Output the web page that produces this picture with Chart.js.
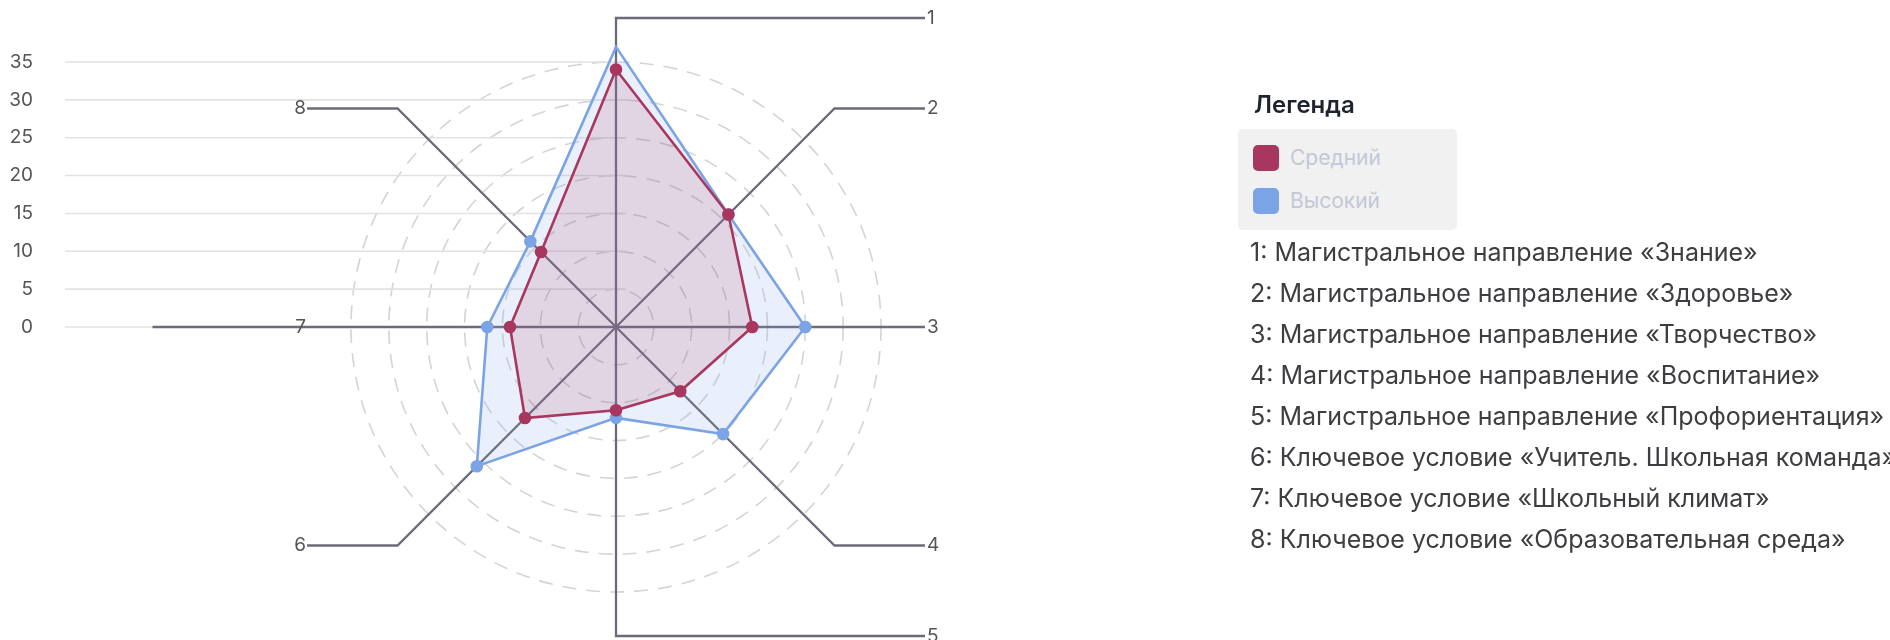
<!DOCTYPE html>
<html>
<head>
<meta charset="utf-8">
<script src="https://cdn.jsdelivr.net/npm/chart.js@4.4.1/dist/chart.umd.min.js"></script>
<style>
  body { margin: 0; background: #fff; font-family: Inter, "Noto Sans", sans-serif; }
  .wrap { position: relative; width: 1890px; height: 640px; overflow: hidden; }
  .wrap canvas { position: absolute; left: 0; top: 0; }
  .legend-title { position: absolute; left: 1254px; top: 90px; font-size: 24px; font-weight: 600; color: #1f2330; }
  .legend-box { position: absolute; left: 1238px; top: 129px; width: 219px; height: 101px; background: #f1f1f2; border-radius: 5px; }
  .legend-item { display: flex; align-items: center; height: 43px; padding-left: 15px; font-size: 21px; color: #c3c8d6; }
  .legend-item:first-child { margin-top: 7px; }
  .legend-item span.sw { width: 26px; height: 26px; border-radius: 5px; margin-right: 11px; }
  .names { position: absolute; left: 1250px; top: 232px; font-size: 25px; color: #3d3d42; }
  .names div { height: 41px; line-height: 41px; white-space: nowrap; }
</style>
</head>
<body>
<div class="wrap">
  <canvas id="radar" width="1890" height="640"></canvas>
  <div class="legend-title">Легенда</div>
  <div class="legend-box" id="legend"></div>
  <div class="names" id="names"></div>
</div>
<script>
const axisNumbers = ["1", "2", "3", "4", "5", "6", "7", "8"];
const axisNames = [
  "Магистральное направление «Знание»",
  "Магистральное направление «Здоровье»",
  "Магистральное направление «Творчество»",
  "Магистральное направление «Воспитание»",
  "Магистральное направление «Профориентация»",
  "Ключевое условие «Учитель. Школьная команда»",
  "Ключевое условие «Школьный климат»",
  "Ключевое условие «Образовательная среда»"
];
const seriesNames = ["Средний", "Высокий"];
const middleValues = [34, 21, 18, 12, 11, 17, 14, 14];
const highValues = [37, 21, 25, 20, 12, 26, 17, 16];
const scaleMax = 35;
const scaleStep = 5;

const colors = ["#a8375f", "#7ba4e6"];
const fills = ["rgba(168,55,95,0.15)", "rgba(123,164,230,0.16)"];

// html legend + list of axis names
const legend = document.getElementById("legend");
seriesNames.forEach((name, i) => {
  legend.innerHTML += `<div class="legend-item"><span class="sw" style="background:${colors[i]}"></span>${name}</div>`;
});
const names = document.getElementById("names");
axisNames.forEach((name, i) => {
  names.innerHTML += `<div>${axisNumbers[i]}: ${name}</div>`;
});

// spokes with elbow leaders + left-axis grid lines (upper half only)
const leaderPlugin = {
  id: "leaders",
  beforeDatasetsDraw(chart) {
    const { ctx, chartArea } = chart;
    const r = chart.scales.r;
    const y = chart.scales.y;
    const cx = r.xCenter, cy = r.yCenter;
    ctx.save();
    ctx.strokeStyle = "#e2e2e4";
    ctx.lineWidth = 1.6;
    y.ticks.forEach(t => {
      if (t.value < 0) return;
      const py = y.getPixelForValue(t.value);
      ctx.beginPath();
      ctx.moveTo(chartArea.left, py);
      ctx.lineTo(cx + 10, py);
      ctx.stroke();
    });

    const reach = r.drawingArea * 1.166;
    ctx.strokeStyle = "#6d6b7a";
    ctx.lineWidth = 2.3;
    ctx.font = "19px Inter";
    ctx.fillStyle = "#555";
    ctx.textBaseline = "middle";
    axisNumbers.forEach((label, i) => {
      const p = r.getPointPosition(i, reach);
      const right = p.x >= cx - 1;
      const endX = right ? cx + reach : cx - reach;
      let lineEnd = endX;
      if (!right && Math.abs(p.y - cy) < 1) lineEnd = cx - reach * 1.5;
      ctx.beginPath();
      ctx.moveTo(cx, cy);
      ctx.lineTo(p.x, p.y);
      ctx.lineTo(lineEnd, p.y);
      ctx.stroke();
      ctx.textAlign = right ? "left" : "right";
      ctx.fillText(label, right ? endX + 2 : endX - 1, p.y);
    });
    ctx.restore();
  }
};

const ctx = document.getElementById("radar").getContext("2d");
new Chart(ctx, {
  type: "radar",
  data: {
    labels: axisNumbers,
    datasets: [
      {
        label: seriesNames[0],
        data: middleValues,
        borderColor: colors[0],
        backgroundColor: fills[0],
        pointBackgroundColor: colors[0],
        pointBorderColor: colors[0],
        borderWidth: 2.6,
        pointRadius: 5,
        fill: true
      },
      {
        label: seriesNames[1],
        data: highValues,
        borderColor: colors[1],
        backgroundColor: fills[1],
        pointBackgroundColor: colors[1],
        pointBorderColor: colors[1],
        borderWidth: 2.6,
        pointRadius: 5,
        fill: true
      }
    ]
  },
  options: {
    responsive: false,
    animation: false,
    layout: { padding: { left: 0, top: 62, right: 723, bottom: 48 } },
    plugins: {
      legend: { display: false },
      tooltip: { enabled: false }
    },
    scales: {
      r: {
        min: 0,
        max: scaleMax,
        ticks: { display: false, stepSize: scaleStep },
        pointLabels: { display: false },
        angleLines: { display: false },
        grid: { circular: true, color: "#d4d4d6", lineWidth: 1.6 },
        border: { dash: [14, 10] }
      },
      y: {
        type: "linear",
        position: "left",
        min: -scaleMax,
        max: scaleMax,
        afterFit(scale) { scale.width = 65; },
        grid: { display: false },
        border: { display: false },
        ticks: {
          stepSize: scaleStep,
          autoSkip: false,
          padding: 24,
          color: "#555",
          font: { family: "Inter", size: 19 },
          callback: v => (v >= 0 ? v : "")
        }
      }
    }
  },
  plugins: [leaderPlugin]
});
</script>
</body>
</html>
